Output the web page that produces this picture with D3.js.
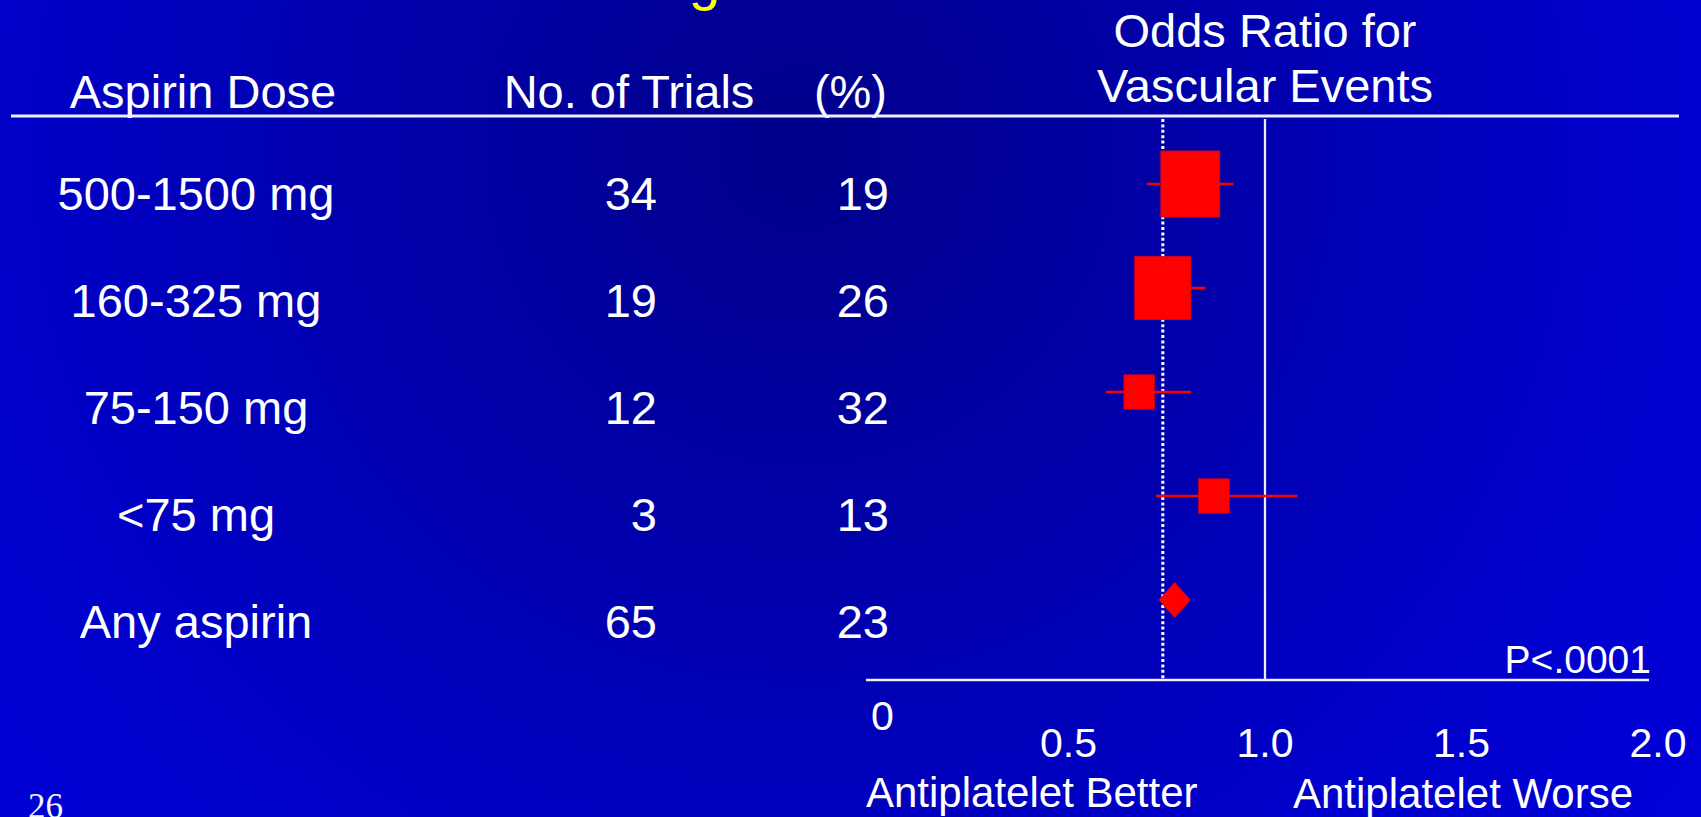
<!DOCTYPE html>
<html>
<head>
<meta charset="utf-8">
<script src="https://cdn.jsdelivr.net/npm/d3@7/dist/d3.min.js"></script>
<style>
  html, body { margin: 0; padding: 0; overflow: hidden; background: #0000aa; }
  svg { display: block; }
  text { font-family: "Liberation Sans", Arial, Helvetica, sans-serif; fill: #ffffff; }
</style>
</head>
<body>
<svg id="chart" width="1701" height="817"></svg>
<script>
// Aspirin dose groups and their trial summaries
const doses = ["500-1500 mg", "160-325 mg", "75-150 mg", "<75 mg", "Any aspirin"];
const trials = [34, 19, 12, 3, 65];
const oddsReduction = [19, 26, 32, 13, 23];          // % reduction in odds
const oddsRatio = [0.81, 0.74, 0.68, 0.87, 0.77];    // point estimates
const ciLow = [0.70, 0.667, 0.595, 0.723, 0.73];
const ciHigh = [0.92, 0.848, 0.812, 1.083, 0.81];
const weight = [100, 91, 27, 27, null];              // relative statistical weight (box area)
const summaryIndex = 4;                              // pooled estimate drawn as a diamond
const pooledReference = 0.74;                        // dotted reference line
const xTicks = [0, 0.5, 1.0, 1.5, 2.0];
const xTickLabels = ["0", "0.5", "1.0", "1.5", "2.0"];
const pValue = "P<.0001";

const W = 1701, H = 817;
const svg = d3.select("#chart");

// Background: dark centre fading to bright blue towards the edges
const defs = svg.append("defs");
const grad = defs.append("radialGradient")
  .attr("id", "bg").attr("gradientUnits", "userSpaceOnUse")
  .attr("cx", 800).attr("cy", 150).attr("r", 1100);
grad.append("stop").attr("offset", 0).attr("stop-color", "#00008a");
grad.append("stop").attr("offset", 0.77).attr("stop-color", "#0000cc");
grad.append("stop").attr("offset", 1).attr("stop-color", "#0000d8");
svg.append("rect").attr("width", W).attr("height", H).attr("fill", "url(#bg)");

// Scales
const x = d3.scaleLinear().domain([0, 2]).range([872, 1658]);
const yMark = d3.scalePoint().domain(doses).range([184, 600]);
const yText = d3.scalePoint().domain(doses).range([210, 638]);
const boxSide = d3.scaleSqrt().domain([0, 100]).range([0, 59]);
const boxAspect = 1.12;

const lineColor = "#eeeeff";
const plotTop = 119, plotBottom = 680;

// Slide title (only its descender reaches into view)
svg.append("text")
  .attr("x", 704.5).attr("y", -1.5)
  .attr("text-anchor", "middle")
  .style("font-size", "57px").style("fill", "#ffff00")
  .text("g");

// Column headers
const headerSize = "47px";
svg.append("text").attr("x", 203).attr("y", 108).attr("text-anchor", "middle")
  .style("font-size", headerSize).text("Aspirin Dose");
svg.append("text").attr("x", 629).attr("y", 108).attr("text-anchor", "middle")
  .style("font-size", headerSize).text("No. of Trials");
svg.append("text").attr("x", 887).attr("y", 108).attr("text-anchor", "end")
  .style("font-size", headerSize).text("(%)");
svg.append("text").attr("x", 1265).attr("y", 47).attr("text-anchor", "middle")
  .style("font-size", headerSize).text("Odds Ratio for");
svg.append("text").attr("x", 1265).attr("y", 102).attr("text-anchor", "middle")
  .style("font-size", headerSize).text("Vascular Events");

// Header rule
svg.append("line")
  .attr("x1", 11).attr("x2", 1679).attr("y1", 116).attr("y2", 116)
  .attr("stroke", lineColor).attr("stroke-width", 3);

// Table rows
const rows = svg.append("g");
doses.forEach((d, i) => {
  rows.append("text").attr("x", 196).attr("y", yText(d)).attr("text-anchor", "middle")
    .style("font-size", "47px").text(d);
  rows.append("text").attr("x", 657).attr("y", yText(d)).attr("text-anchor", "end")
    .style("font-size", "47px").text(trials[i]);
  rows.append("text").attr("x", 889).attr("y", yText(d)).attr("text-anchor", "end")
    .style("font-size", "47px").text(oddsReduction[i]);
});

// Reference lines: pooled (dotted) and no effect at OR = 1 (solid)
svg.append("line")
  .attr("x1", x(pooledReference)).attr("x2", x(pooledReference))
  .attr("y1", plotTop).attr("y2", plotBottom)
  .attr("stroke", "#ffffff").attr("stroke-width", 3)
  .attr("stroke-dasharray", "3 2.4");
svg.append("line")
  .attr("x1", x(1)).attr("x2", x(1))
  .attr("y1", plotTop).attr("y2", plotBottom)
  .attr("stroke", lineColor).attr("stroke-width", 2.3);

// Confidence intervals and weighted boxes
const marks = svg.append("g");
doses.forEach((d, i) => {
  const cy = yMark(d);
  if (i === summaryIndex) {
    const h = 17.5;
    const pts = [[x(ciLow[i]), cy], [x(oddsRatio[i]), cy - h], [x(ciHigh[i]), cy], [x(oddsRatio[i]), cy + h]];
    marks.append("path")
      .attr("d", "M" + pts.map(p => p.join(",")).join("L") + "Z")
      .attr("fill", "#ff0000").attr("stroke", "#e00010").attr("stroke-width", 0.8);
    return;
  }
  marks.append("line")
    .attr("x1", x(ciLow[i])).attr("x2", x(ciHigh[i]))
    .attr("y1", cy).attr("y2", cy)
    .attr("stroke", "#ff0000").attr("stroke-width", 2.4);
  const w = boxSide(weight[i]);
  const h = w * boxAspect;
  marks.append("rect")
    .attr("x", x(oddsRatio[i]) - w / 2).attr("y", cy - h / 2)
    .attr("width", w).attr("height", h)
    .attr("fill", "#ff0000").attr("stroke", "#d00020").attr("stroke-width", 0.8);
});

// Horizontal axis
svg.append("line")
  .attr("x1", 866).attr("x2", 1649).attr("y1", plotBottom).attr("y2", plotBottom)
  .attr("stroke", lineColor).attr("stroke-width", 2.7);

svg.append("text").attr("x", 1651).attr("y", 673).attr("text-anchor", "end")
  .style("font-size", "39px").text(pValue);

const tickG = svg.append("g");
xTicks.forEach((t, i) => {
  const isOrigin = t === 0;
  tickG.append("text")
    .attr("x", isOrigin ? x(t) - 1 : x(t))
    .attr("y", isOrigin ? 730 : 757)
    .attr("text-anchor", isOrigin ? "start" : "middle")
    .style("font-size", "41px")
    .text(xTickLabels[i]);
});

svg.append("text").attr("x", 866).attr("y", 807)
  .style("font-size", "42px").text("Antiplatelet Better");
svg.append("text").attr("x", 1293).attr("y", 808)
  .style("font-size", "42px").text("Antiplatelet Worse");

// Slide number
svg.append("text").attr("x", 28).attr("y", 818)
  .style("font-family", "'Liberation Serif', 'Times New Roman', serif")
  .style("font-size", "35px").style("fill", "#f4f4ff")
  .text("26");
</script>
</body>
</html>
